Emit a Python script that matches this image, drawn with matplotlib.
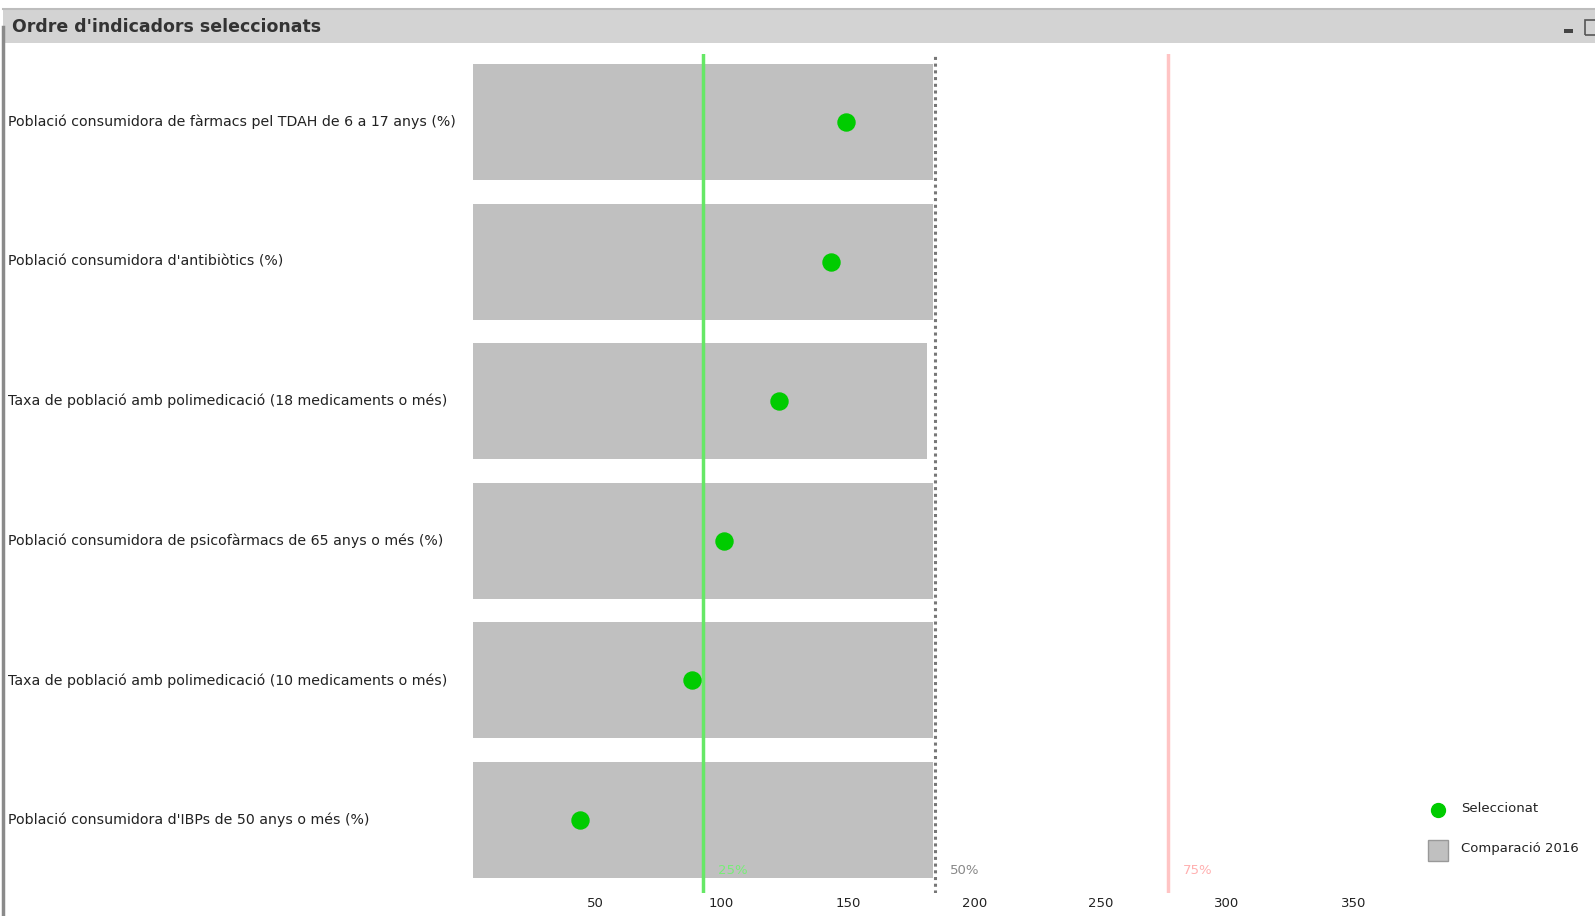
import matplotlib.pyplot as plt
from matplotlib.patches import Rectangle
from matplotlib.lines import Line2D

indicadors = [
    "Població consumidora de fàrmacs pel TDAH de 6 a 17 anys (%)",
    "Població consumidora d'antibiòtics (%)",
    "Taxa de població amb polimedicació (18 medicaments o més)",
    "Població consumidora de psicofàrmacs de 65 anys o més (%)",
    "Taxa de població amb polimedicació (10 medicaments o més)",
    "Població consumidora d'IBPs de 50 anys o més (%)",
]
comparacio_2016 = [183.5, 183.5, 181.2, 183.5, 183.5, 183.5]
seleccionat = [149.4, 143.3, 122.8, 101.0, 88.2, 43.9]
percentils = [92.6, 184.5, 276.6]
percentil_labels = ["25%", "50%", "75%"]
xticks = [50, 100, 150, 200, 250, 300, 350]

fig = plt.figure(figsize=(15.95, 9.16), dpi=100)

# barra de titol de la finestra
fig.patches.append(Rectangle((0.002, 0.953), 0.998, 0.036, transform=fig.transFigure,
                             facecolor='#d3d3d3', edgecolor='none'))
fig.add_artist(Line2D([0.002, 1], [0.99, 0.99], color='#bdbdbd', lw=1.5))
fig.add_artist(Line2D([0.002, 0.002], [0, 0.97], color='#8a8a8a', lw=2.5))
fig.text(0.0075, 0.971, "Ordre d'indicadors seleccionats", fontsize=12.5,
         fontweight='bold', color='#333333', va='center')
fig.patches.append(Rectangle((0.9805, 0.964), 0.006, 0.004, transform=fig.transFigure,
                             facecolor='#444444', edgecolor='none'))
fig.patches.append(Rectangle((0.9935, 0.962), 0.01, 0.016, transform=fig.transFigure,
                             facecolor='none', edgecolor='#555555', lw=1.2))

ax = fig.add_axes([0.2965, 0.025, 0.5837, 0.916])
y = list(range(len(indicadors)))

ax.barh(y, comparacio_2016, height=0.83, color='#c0c0c0', zorder=1)
ax.axvline(percentils[0], color='#66e866', lw=2.5, zorder=2)
ax.axvline(percentils[1], color='#777777', lw=2.2, ls=(0, (1, 1.2)), zorder=2)
ax.axvline(percentils[2], color='#ffc4c4', lw=2.5, zorder=2)
ax.scatter(seleccionat, y, s=150, color='#00cc00', zorder=3)

pcol = ['#77ee77', '#888888', '#ffb0b0']
for xv, lab, c in zip(percentils, percentil_labels, pcol):
    ax.text(xv + 6, 5.36, lab, color=c, fontsize=9.5, va='center', ha='left')

ax.set_xlim(1.6, 370)
ax.set_ylim(5.525, -0.488)
ax.set_xticks(xticks)
ax.set_xticklabels([str(t) for t in xticks], fontsize=9.5, color='#222222')
ax.tick_params(axis='x', length=0, pad=3)
ax.set_yticks([])
for s in ax.spines.values():
    s.set_visible(False)

# etiquetes dels indicadors, alineades a l'esquerra de la figura
for i, lab in enumerate(indicadors):
    yy = ax.transData.transform((0, i))[1] / fig.bbox.height
    fig.text(0.005, yy, lab, fontsize=10.2, color='#222222', va='center', ha='left')

# llegenda
fig.add_artist(Line2D([0.9018], [0.1156], marker='o', markersize=10, color='#00cc00',
                      transform=fig.transFigure))
fig.text(0.916, 0.1175, "Seleccionat", fontsize=9.5, color='#222222', va='center')
fig.patches.append(Rectangle((0.8955, 0.0605), 0.0125, 0.022, transform=fig.transFigure,
                             facecolor='#c0c0c0', edgecolor='#999999', lw=1))
fig.text(0.916, 0.0735, "Comparació 2016", fontsize=9.5, color='#222222', va='center')

fig.savefig('out.png', dpi=100)
